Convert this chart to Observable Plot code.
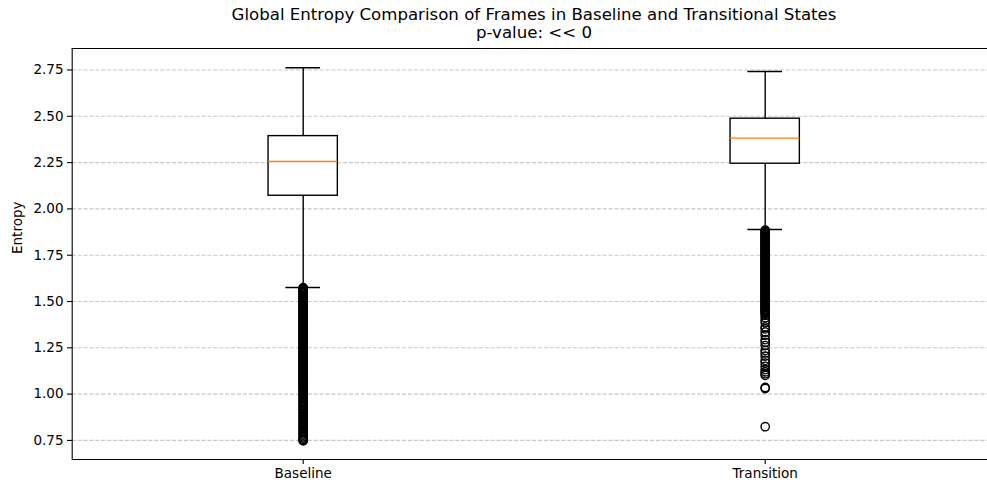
<!DOCTYPE html>
<html>
<head>
<meta charset="utf-8">
<script src="https://cdn.jsdelivr.net/npm/d3@7"></script>
<script src="https://cdn.jsdelivr.net/npm/@observablehq/plot@0.6"></script>
<style>
  html, body { margin: 0; padding: 0; background: #fff; width: 987px; height: 487px; overflow: hidden; }
  #title { position: relative; height: 40px; font-family: "DejaVu Sans", sans-serif; font-size: 16.6px; color: #000; }
  #title div { position: absolute; left: 72px; width: 924px; text-align: center; line-height: 17px; height: 17px; white-space: nowrap; }
</style>
</head>
<body>
<div id="title"></div>
<div id="chart"></div>
<script>
const titleLines = ["Global Entropy Comparison of Frames in Baseline and Transitional States", "p-value: << 0"];
const yLabel = "Entropy";
const categories = ["Baseline", "Transition"];
const positions = [1, 2];
const whiskerLow = [1.576, 1.889];
const q1 = [2.071, 2.244];
const median = [2.256, 2.382];
const q3 = [2.393, 2.487];
const whiskerHigh = [2.762, 2.742];
const yTicks = [0.75, 1.00, 1.25, 1.50, 1.75, 2.00, 2.25, 2.50, 2.75];

const outliersBaseline = [
  1.575,1.570,1.565,1.560,1.555,1.550,1.545,1.540,1.535,1.530,
  1.525,1.520,1.515,1.510,1.505,1.500,1.495,1.490,1.485,1.480,
  1.475,1.470,1.465,1.460,1.455,1.450,1.445,1.440,1.435,1.430,
  1.425,1.420,1.415,1.410,1.405,1.400,1.395,1.390,1.385,1.380,
  1.375,1.370,1.365,1.360,1.355,1.350,1.345,1.340,1.335,1.330,
  1.325,1.320,1.315,1.310,1.305,1.300,1.295,1.290,1.285,1.280,
  1.275,1.270,1.265,1.260,1.255,1.250,1.245,1.240,1.235,1.230,
  1.225,1.220,1.215,1.210,1.205,1.200,1.195,1.190,1.185,1.180,
  1.175,1.170,1.165,1.160,1.155,1.150,1.145,1.140,1.135,1.130,
  1.125,1.120,1.115,1.110,1.105,1.100,1.095,1.090,1.085,1.080,
  1.075,1.070,1.065,1.060,1.055,1.050,1.044,1.038,1.031,1.025,
  1.018,1.012,1.005,0.998,0.991,0.985,0.977,0.970,0.963,0.955,
  0.948,0.940,0.933,0.925,0.917,0.910,0.902,0.894,0.886,0.878,
  0.871,0.863,0.855,0.847,0.839,0.831,0.823,0.816,0.808,0.800,
  0.793,0.785,0.778,0.770,0.763,0.756,0.750,0.748
];
const outliersTransition = [
  1.885,1.880,1.875,1.870,1.865,1.860,1.855,1.850,1.845,1.840,
  1.835,1.830,1.825,1.820,1.815,1.810,1.805,1.800,1.795,1.790,
  1.785,1.780,1.775,1.770,1.765,1.760,1.755,1.750,1.745,1.740,
  1.735,1.730,1.725,1.720,1.715,1.710,1.705,1.700,1.695,1.690,
  1.685,1.680,1.675,1.670,1.665,1.660,1.655,1.650,1.645,1.640,
  1.635,1.630,1.625,1.620,1.615,1.610,1.605,1.600,1.595,1.590,
  1.585,1.580,1.575,1.570,1.565,1.560,1.555,1.550,1.545,1.540,
  1.535,1.530,1.525,1.520,1.515,1.510,1.505,1.500,1.495,1.490,
  1.485,1.480,1.475,1.470,1.465,1.460,1.455,1.450,1.445,1.440,
  1.435,1.425,1.412,1.398,1.385,1.362,1.352,1.335,1.318,1.294,
  1.280,1.262,1.236,1.222,1.205,1.182,1.168,1.150,1.132,1.120,
  1.110,1.101,1.036,1.030,0.824
];

// title (HTML, above the SVG)
const tdiv = document.getElementById("title");
titleLines.forEach((t, i) => {
  const d = document.createElement("div");
  d.textContent = t;
  d.style.top = (5.5 + i * 18) + "px";
  tdiv.appendChild(d);
});

const stats = categories.map((c, i) => ({
  cat: c, pos: positions[i], lo: whiskerLow[i], q1: q1[i], med: median[i], q3: q3[i], hi: whiskerHigh[i]
}));
const outliers = [
  ...outliersBaseline.map(v => ({pos: positions[0], v})),
  ...outliersTransition.map(v => ({pos: positions[1], v}))
];
const boxHalf = 0.075, capHalf = 0.0375;
const yDomain = [0.647, 2.866];
const xDomain = [0.5, 2.5];
const lw = 1.39;

const chart = Plot.plot({
  width: 987,
  height: 447,
  marginTop: 8,
  marginBottom: 28,
  marginLeft: 72,
  marginRight: 0,
  style: { fontFamily: "DejaVu Sans, sans-serif", fontSize: "13.5px", color: "#000", background: "#fff", overflow: "hidden" },
  x: { type: "linear", domain: xDomain, range: [71.7, 995.7], axis: null },
  y: { domain: yDomain, axis: null },
  marks: [
    Plot.gridY(yTicks, { stroke: "#b0b0b0", strokeOpacity: 0.7, strokeWidth: 1.1, strokeDasharray: "4.1,1.8", x1: xDomain[0], x2: xDomain[1] }),
    // spines
    Plot.ruleX([xDomain[0]], { y1: yDomain[0], y2: yDomain[1], stroke: "#000", strokeWidth: 1.1 }),
    Plot.ruleY([yDomain[0], yDomain[1]], { x1: xDomain[0], x2: xDomain[1], stroke: "#000", strokeWidth: 1.1 }),
    // y ticks and labels
    Plot.axisY(yTicks, { tickSize: 5, tickPadding: 4, tickFormat: d3.format(".2f"), fontSize: 13.5, stroke: "#000", strokeWidth: 1.1, label: null }),
    Plot.axisX(positions, { tickSize: 5, tickPadding: 4, tickFormat: (d) => categories[positions.indexOf(d)], fontSize: 13.5, stroke: "#000", strokeWidth: 1.1, label: null }),
    Plot.text([yLabel], { frameAnchor: "left", dx: -55, rotate: -90, fontSize: 13.5, fill: "#000" }),
    // whiskers
    Plot.ruleX(stats, { x: "pos", y1: "q3", y2: "hi", stroke: "#000", strokeWidth: lw }),
    Plot.ruleX(stats, { x: "pos", y1: "q1", y2: "lo", stroke: "#000", strokeWidth: lw }),
    // caps
    Plot.ruleY(stats, { x1: d => d.pos - capHalf, x2: d => d.pos + capHalf, y: "hi", stroke: "#000", strokeWidth: lw }),
    Plot.ruleY(stats, { x1: d => d.pos - capHalf, x2: d => d.pos + capHalf, y: "lo", stroke: "#000", strokeWidth: lw }),
    // boxes
    Plot.rect(stats, { x1: d => d.pos - boxHalf, x2: d => d.pos + boxHalf, y1: "q1", y2: "q3", fill: "#fff", stroke: "#000", strokeWidth: lw }),
    // medians
    Plot.ruleY(stats, { x1: d => d.pos - boxHalf, x2: d => d.pos + boxHalf, y: "med", stroke: "#ff7f0e", strokeWidth: lw }),
    // fliers
    Plot.dot(outliers, { x: "pos", y: "v", r: 4.17, fill: "none", stroke: "#000", strokeWidth: lw })
  ]
});
document.getElementById("chart").appendChild(chart);
</script>
</body>
</html>
